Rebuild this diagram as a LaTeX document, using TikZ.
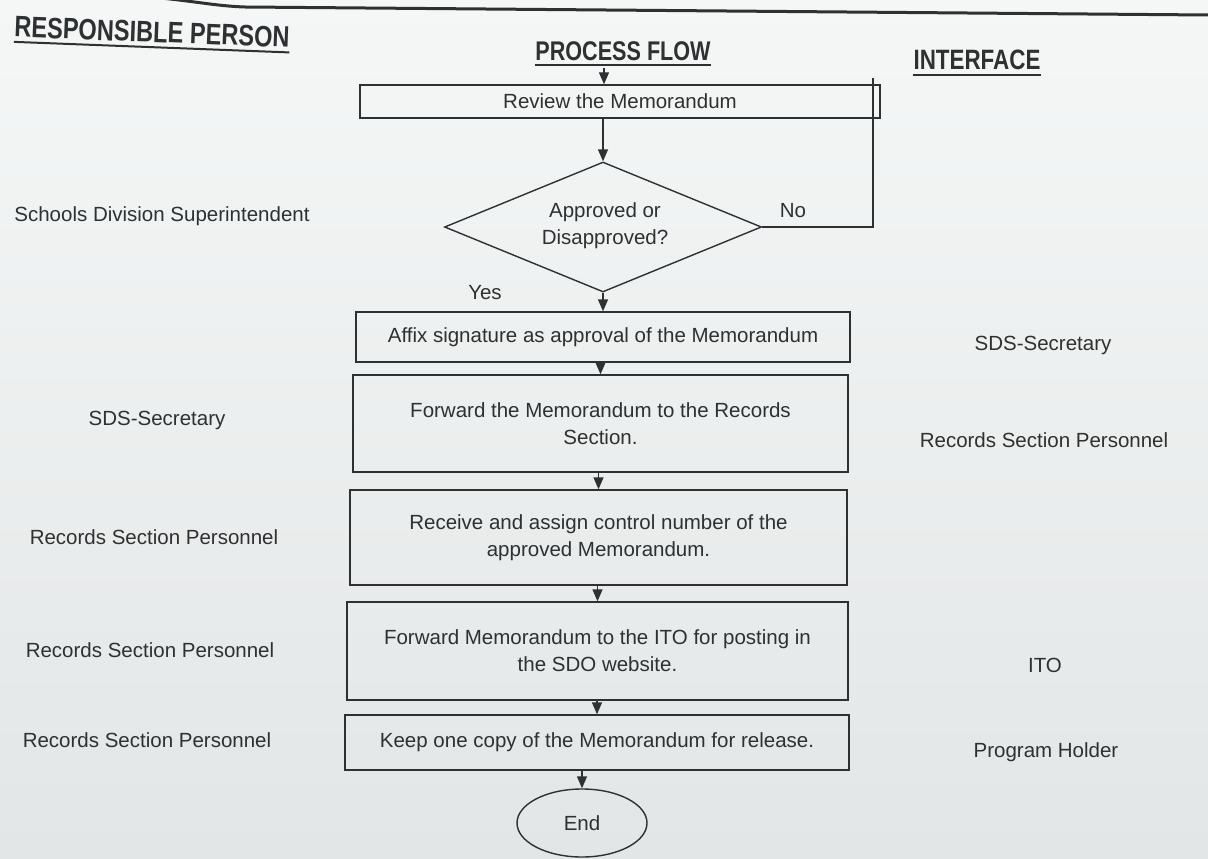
\documentclass[tikz,border=0pt]{standalone}
\usepackage{fontspec}
\setmainfont{Liberation Sans}
\newfontfamily\headfont[FakeStretch=0.8]{Liberation Sans}
\usetikzlibrary{shapes.geometric,arrows.meta}
\definecolor{ink}{HTML}{2E3131}
\definecolor{papertop}{HTML}{F5F7F7}
\definecolor{paperbot}{HTML}{E3E6E6}
\begin{document}
\begin{tikzpicture}[x=1pt,y=-1pt,
  box/.style={draw=ink,line width=1.4pt,inner sep=0pt,align=center,text=ink,
    font=\fontsize{20.5}{27}\selectfont},
  lbl/.style={text=ink,font=\fontsize{20.5}{27}\selectfont,inner sep=0pt},
  hd/.style={text=ink,font=\headfont\bfseries\fontsize{27}{30}\selectfont,inner sep=0pt},
  arr/.style={draw=ink,line width=1.4pt,-{Triangle[length=12pt,width=10pt]}},
  ln/.style={draw=ink,line width=1.4pt},
  ul/.style={draw=ink,line width=2pt}]
\useasboundingbox (0,0) rectangle (1208,859);
\shade[top color=papertop,bottom color=paperbot] (0,0) rectangle (1208,859);
% top page edge line
\draw[ink,line width=3pt] (150,-3) .. controls (195,1) and (215,6) .. (245,7) -- (1208,15);
% headings
\node[hd,rotate=-2.2,font=\headfont\bfseries\fontsize{29.5}{32}\selectfont] (h1) at (152,32) {RESPONSIBLE PERSON};
\draw[ul] ([yshift=-5pt]h1.base west) -- ([yshift=-5pt]h1.base east);
\node[hd] (h2) at (623,51) {PROCESS FLOW};
\draw[ul] ([yshift=-5pt]h2.base west) -- ([yshift=-5pt]h2.base east);
\node[hd,font=\headfont\bfseries\fontsize{28}{30}\selectfont] (h3) at (977,60) {INTERFACE};
\draw[ul] ([yshift=-5pt]h3.base west) -- ([yshift=-5pt]h3.base east);
% flow
\coordinate (start) at (604,68);
\node[box,minimum width=520pt,minimum height=33pt] (b1) at (620,101.5) {Review the Memorandum};
\node[box,diamond,minimum width=317pt,minimum height=130pt] (d) at (603,227) {};
\node[lbl,align=center] (dt) at (605,226) {Approved or\\Disapproved?};
\node[box,minimum width=494pt,minimum height=50pt] (b2) at (603,337) {Affix signature as approval of the Memorandum};
\node[box,minimum width=495pt,minimum height=97pt] (b3) at (600.5,423.5) {Forward the Memorandum to the Records\\Section.};
\node[box,minimum width=497pt,minimum height=95pt] (b4) at (598.5,537.5) {Receive and assign control number of the\\approved Memorandum.};
\node[box,minimum width=501pt,minimum height=98pt] (b5) at (597.5,651) {Forward Memorandum to the ITO for posting in\\the SDO website.};
\node[box,minimum width=504pt,minimum height=55pt] (b6) at (597,742.5) {Keep one copy of the Memorandum for release.};
\node[box,ellipse,minimum width=130pt,minimum height=68pt] (e) at (582,823) {End};
\draw[arr] (start) -- (start |- b1.north);
\draw[arr] (d.north |- b1.south) -- (d.north);
\draw[arr] (d.south) -- (d.south |- b2.north);
\draw[arr] (b3.north |- b2.south) -- (b3.north);
\draw[arr] (b4.north |- b3.south) -- (b4.north);
\draw[arr] (b5.north |- b4.south) -- (b5.north);
\draw[arr] (b6.north |- b5.south) -- (b6.north);
\draw[arr] (e.north |- b6.south) -- (e.north);
\coordinate (loopend) at (873,78);
\draw[ln] (d.east) -- (d.east -| loopend) -- (loopend);
\node[lbl] (no) at (793,211) {No};
\node[lbl] (yes) at (485,293) {Yes};
% responsible persons
\node[lbl] (r1) at (162,216) {Schools Division Superintendent};
\node[lbl] (r2) at (157,420) {SDS-Secretary};
\node[lbl] (r3) at (154,537) {Records Section Personnel};
\node[lbl] (r4) at (150,650) {Records Section Personnel};
\node[lbl] (r5) at (147,740) {Records Section Personnel};
% interface
\node[lbl] (i1) at (1043,345) {SDS-Secretary};
\node[lbl] (i2) at (1044,440) {Records Section Personnel};
\node[lbl] (i3) at (1045,665) {ITO};
\node[lbl] (i4) at (1046,752) {Program Holder};
\end{tikzpicture}
\end{document}
